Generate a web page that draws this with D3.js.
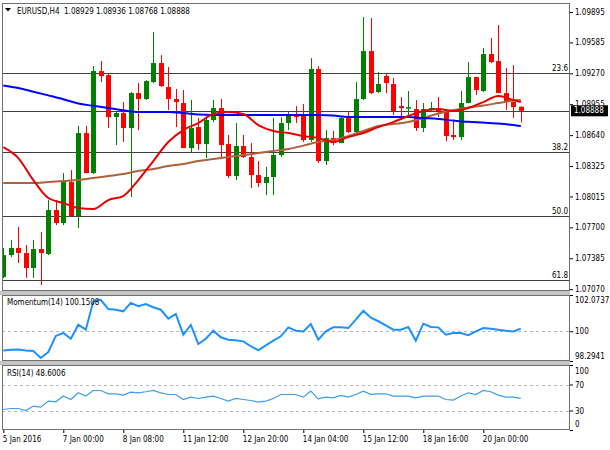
<!DOCTYPE html>
<html>
<head>
<meta charset="utf-8">
<title>EURUSD,H4</title>
<style>
  body { margin: 0; background: #fff; }
  svg text { font-family: "DejaVu Sans Condensed", "DejaVu Sans", sans-serif; font-stretch: condensed; font-size: 8px; fill: #000; }
</style>
</head>
<body>
<svg id="chart" width="610" height="450"></svg>
<script src="https://d3js.org/d3.v7.min.js"></script>
<script>
// ---- data ----
const header = "EURUSD,H4  1.08929 1.08936 1.08768 1.08888"
const tickBars = [0, 8, 16, 24, 32, 40, 48, 56, 64]
const tickLabels = ["5 Jan 2016", "7 Jan 00:00", "8 Jan 08:00", "11 Jan 12:00", "12 Jan 20:00",
  "14 Jan 04:00", "15 Jan 12:00", "18 Jan 16:00", "20 Jan 00:00"]

const open = [1.07193,1.07418,1.07489,1.07438,1.07285,1.07479,1.07428,1.07876,1.07744,1.08162,
  1.07815,1.08661,1.08253,1.09293,1.09252,1.08824,1.08865,1.08712,1.09069,1.09008,
  1.09181,1.09375,1.09130,1.09008,1.08967,1.08508,1.08722,1.08549,1.08794,1.08916,
  1.08549,1.08223,1.08529,1.08417,1.08233,1.08152,1.08213,1.08437,1.08763,1.08845,
  1.08845,1.08590,1.09314,1.08376,1.08610,1.08559,1.08814,1.08671,1.09008,1.09497,
  1.09079,1.09242,1.09161,1.08936,1.08916,1.08906,1.08712,1.08896,1.08916,1.08886,
  1.08641,1.08620,1.08967,1.09232,1.09089,1.09467,1.09395,1.09069,1.08977,1.08929]
const high = [1.07489,1.07570,1.07703,1.07520,1.07570,1.07652,1.07978,1.07978,1.08253,1.08284,
  1.08733,1.08733,1.09344,1.09395,1.09263,1.08875,1.08977,1.09079,1.09171,1.09201,
  1.09691,1.09456,1.09334,1.09110,1.09100,1.08998,1.08814,1.08814,1.08998,1.09008,
  1.08641,1.08763,1.08641,1.08559,1.08376,1.08315,1.08814,1.08824,1.08875,1.08936,
  1.08957,1.09426,1.09344,1.08692,1.08682,1.08824,1.08875,1.09181,1.09844,1.09834,
  1.09283,1.09273,1.09222,1.09028,1.09089,1.08998,1.08967,1.08977,1.09028,1.08896,
  1.08794,1.09089,1.09385,1.09232,1.09528,1.09630,1.09762,1.09324,1.09354,1.08936]
const low = [1.07183,1.07397,1.07336,1.07183,1.07183,1.07112,1.07418,1.07723,1.07723,1.07815,
  1.07693,1.08253,1.08243,1.09181,1.08712,1.08539,1.08570,1.08009,1.08692,1.08998,
  1.09171,1.09130,1.08896,1.08722,1.08508,1.08468,1.08488,1.08406,1.08773,1.08417,
  1.08203,1.08182,1.08406,1.08101,1.08111,1.08029,1.08029,1.08417,1.08692,1.08763,
  1.08570,1.08570,1.08355,1.08335,1.08539,1.08559,1.08661,1.08661,1.08998,1.09059,
  1.09069,1.09069,1.08845,1.08794,1.08824,1.08682,1.08671,1.08875,1.08824,1.08580,
  1.08590,1.08590,1.08967,1.09049,1.09079,1.09375,1.09069,1.08896,1.08814,1.08768]
const close = [1.07418,1.07489,1.07438,1.07285,1.07479,1.07438,1.07876,1.07744,1.08162,1.07815,
  1.08661,1.08253,1.09293,1.09242,1.08824,1.08865,1.08712,1.09069,1.09008,1.09191,
  1.09375,1.09140,1.09008,1.08977,1.08508,1.08712,1.08549,1.08794,1.08916,1.08539,
  1.08223,1.08529,1.08417,1.08233,1.08152,1.08213,1.08437,1.08763,1.08835,1.08824,
  1.08590,1.09314,1.08376,1.08610,1.08559,1.08814,1.08671,1.09008,1.09497,1.09069,
  1.09161,1.09171,1.08886,1.08916,1.08926,1.08712,1.08906,1.08916,1.08886,1.08631,
  1.08620,1.08967,1.09232,1.09100,1.09467,1.09385,1.09069,1.08977,1.08926,1.08888]

// moving averages, read every second bar
const maBars = [0,2,4,6,8,10,12,14,16,18,20,22,24,26,28,30,32,34,36,38,40,42,44,46,48,50,52,54,56,58,60,62,64,66,68,69]
const maRed = [1.08518,1.08406,1.08182,1.07999,1.07948,1.07897,1.07886,1.07978,1.08019,1.08182,
  1.08376,1.08570,1.08692,1.08763,1.08855,1.08875,1.08855,1.08743,1.08682,1.08661,
  1.08631,1.08610,1.08570,1.08620,1.08661,1.08722,1.08773,1.08835,1.08886,1.08906,
  1.08886,1.08916,1.08977,1.09038,1.08998,1.08977]
const maBrown = [1.08152,1.08152,1.08152,1.08162,1.08172,1.08182,1.08203,1.08223,1.08243,1.08274,
  1.08294,1.08325,1.08345,1.08376,1.08396,1.08417,1.08437,1.08457,1.08478,1.08498,
  1.08533,1.08570,1.08590,1.08631,1.08682,1.08733,1.08753,1.08773,1.08814,1.08860,
  1.08896,1.08921,1.08942,1.08967,1.08992,1.08998]
const maBlue = [1.09146,1.09120,1.09083,1.09045,1.09006,1.08962,1.08939,1.08916,1.08893,1.08875,
  1.08875,1.08875,1.08865,1.08850,1.08845,1.08845,1.08845,1.08845,1.08845,1.08845,
  1.08845,1.08845,1.08840,1.08824,1.08824,1.08824,1.08824,1.08824,1.08814,1.08804,
  1.08789,1.08776,1.08768,1.08758,1.08743,1.08733]

const fibNames = ["23.6", "38.2", "50.0", "61.8"]
const fibPrices = [1.09276, 1.08468, 1.07815, 1.07162]
const lastPrice = 1.08888
const priceTicks = [1.09895, 1.09585, 1.09270, 1.08955, 1.08640, 1.08325, 1.08015, 1.07700, 1.07385, 1.07070]

const momentum = [98.90,98.94,98.95,98.90,98.87,98.47,98.81,99.73,99.90,99.57,
  100.37,100.09,101.71,101.80,101.27,101.23,101.14,101.62,101.43,101.56,
  101.37,101.23,100.72,100.99,99.80,100.36,99.27,99.57,100.03,99.65,
  99.51,99.48,99.42,99.14,98.91,99.19,99.46,99.71,100.22,100.03,
  99.99,100.41,99.51,99.99,100.22,100.22,100.18,100.66,101.17,100.77,
  100.57,100.34,100.09,100.09,100.24,99.46,100.43,100.24,100.22,99.80,
  99.90,99.90,99.77,99.99,100.18,100.14,100.09,100.03,99.99,100.1508]
const momTicks = [102.0737, 100, 98.2941]

const rsi = [31.5,33.1,33.1,30.0,36.8,35.2,44.5,43.4,52.2,46.9,
  57.2,52.2,60.8,60.8,55.7,55.7,53.7,58.3,57.2,58.8,
  60.8,57.2,54.6,54.6,46.9,50.6,48.5,50.6,52.2,48.5,
  44.5,48.5,46.9,45.4,42.9,44.5,48.5,54.6,54.6,54.6,
  50.6,59.8,48.0,50.6,49.5,53.1,50.6,54.6,59.8,54.9,
  55.7,55.7,52.2,52.2,52.2,49.5,52.2,52.2,52.2,46.9,
  46.0,52.2,57.2,54.6,60.8,58.8,53.7,50.6,50.6,48.6006]
const rsiTicks = [100, 70, 30, 0]

// ---- layout ----
const left = 2, right = 570
const main = { top: 3, bottom: 291 }
const mom = { top: 295, bottom: 361 }
const rsiP = { top: 365, bottom: 430 }

const svg = d3.select('#chart')

const x = d3.scaleLinear().domain([0, 69]).range([3.3, 520.8])
const y = d3.scaleLinear().domain([1.07051, 1.09987]).range([main.bottom, main.top])
const yMom = d3.scaleLinear().domain([98.2941, 102.0737]).range([mom.bottom, mom.top])
const yRsi = d3.scaleLinear().domain([0, 100]).range([rsiP.bottom, rsiP.top])

const px = i => Math.round(x(i)) + 0.5

// splitters between the windows (only under the chart area)
svg.append('rect').attr('x', 0).attr('y', main.bottom).attr('width', right).attr('height', mom.top - main.bottom).attr('fill', '#c4c4c4')
svg.append('rect').attr('x', 0).attr('y', mom.bottom).attr('width', right).attr('height', rsiP.top - mom.bottom).attr('fill', '#c4c4c4')

// clip paths
const defs = svg.append('defs')
;[['clipMain', main], ['clipMom', mom], ['clipRsi', rsiP]].forEach(([id, p]) => {
  defs.append('clipPath').attr('id', id).append('rect')
    .attr('x', left).attr('y', p.top).attr('width', right - left).attr('height', p.bottom - p.top)
})

// ---- main window ----
const plot = svg.append('g').attr('clip-path', 'url(#clipMain)')

plot.selectAll('line.fib').data(fibPrices).join('line')
  .attr('class', 'fib')
  .attr('x1', left).attr('x2', right)
  .attr('y1', d => Math.round(y(d)) + 0.5).attr('y2', d => Math.round(y(d)) + 0.5)
  .attr('stroke', '#404040')

plot.append('line')
  .attr('x1', left).attr('x2', right)
  .attr('y1', Math.round(y(lastPrice)) + 0.5).attr('y2', Math.round(y(lastPrice)) + 0.5)
  .attr('stroke', '#404040')

const bars = d3.range(open.length)
const colour = i => close[i] >= open[i] ? '#008000' : '#ff0000'

plot.selectAll('line.wick').data(bars).join('line')
  .attr('class', 'wick')
  .attr('x1', px).attr('x2', px)
  .attr('y1', i => y(high[i])).attr('y2', i => y(low[i]))
  .attr('stroke', colour)

plot.selectAll('rect.body').data(bars).join('rect')
  .attr('class', 'body')
  .attr('x', i => Math.round(x(i)) - 2)
  .attr('width', 5)
  .attr('y', i => y(Math.max(open[i], close[i])))
  .attr('height', i => Math.max(1.5, Math.abs(y(open[i]) - y(close[i]))))
  .attr('fill', colour)

const maLine = d3.line().x((d, i) => x(maBars[i])).y(d => y(d)).curve(d3.curveMonotoneX)
plot.append('path').attr('d', maLine(maBrown)).attr('fill', 'none').attr('stroke', '#b0603a').attr('stroke-width', 2)
plot.append('path').attr('d', maLine(maBlue)).attr('fill', 'none').attr('stroke', '#0000ff').attr('stroke-width', 2)
plot.append('path').attr('d', maLine(maRed)).attr('fill', 'none').attr('stroke', '#e60000').attr('stroke-width', 2)

// header
svg.append('path').attr('d', 'M5,8 L11,8 L8,11.5 Z').attr('fill', '#000')
svg.append('text').attr('x', 17).attr('y', 14).attr('xml:space', 'preserve').text(header)

// fibo labels
svg.selectAll('text.fibname').data(fibPrices).join('text')
  .attr('class', 'fibname')
  .attr('x', right - 2).attr('y', d => y(d) - 2)
  .attr('text-anchor', 'end')
  .text((d, i) => fibNames[i])

// price axis
const yAxis = d3.axisRight(y).tickValues(priceTicks).tickSize(3).tickPadding(2).tickFormat(d3.format('.5f'))
svg.append('g').attr('transform', `translate(${right},0)`).call(yAxis)
  .call(g => g.select('.domain').remove())

// current price tag
svg.append('rect').attr('x', right + 1).attr('y', y(lastPrice) - 5.5).attr('width', 37).attr('height', 11).attr('fill', '#000')
svg.append('text').attr('x', right + 4).attr('y', y(lastPrice)).attr('dy', '0.32em')
  .style('fill', '#fff').text(d3.format('.5f')(lastPrice))

// ---- momentum window ----
const momG = svg.append('g').attr('clip-path', 'url(#clipMom)')
momG.append('line').attr('x1', left).attr('x2', right)
  .attr('y1', Math.round(yMom(100)) + 0.5).attr('y2', Math.round(yMom(100)) + 0.5)
  .attr('stroke', '#b8b8b8').attr('stroke-dasharray', '3,3')
momG.append('path')
  .attr('d', d3.line().x((d, i) => x(i)).y(d => yMom(d))(momentum))
  .attr('fill', 'none').attr('stroke', '#1e90ff').attr('stroke-width', 2)
svg.append('text').attr('x', 7).attr('y', 305).text('Momentum(14) ' + d3.format('.4f')(momentum[momentum.length - 1]))

const momAxis = d3.axisRight(yMom).tickValues(momTicks).tickSize(3).tickPadding(2).tickFormat(d => d === 100 ? '100' : d3.format('.4f')(d))
svg.append('g').attr('transform', `translate(${right},0)`).call(momAxis)
  .call(g => g.select('.domain').remove())
  .call(g => g.selectAll('text').attr('dy', d => d === momTicks[0] ? '0.9em' : d === momTicks[2] ? '-0.3em' : '0.32em'))

// ---- RSI window ----
const rsiG = svg.append('g').attr('clip-path', 'url(#clipRsi)')
rsiG.selectAll('line.lvl').data([70, 30]).join('line')
  .attr('x1', left).attr('x2', right)
  .attr('y1', d => Math.round(yRsi(d)) + 0.5).attr('y2', d => Math.round(yRsi(d)) + 0.5)
  .attr('stroke', '#b8b8b8').attr('stroke-dasharray', '3,3')
rsiG.append('path')
  .attr('d', d3.line().x((d, i) => x(i)).y(d => yRsi(d))(rsi))
  .attr('fill', 'none').attr('stroke', '#3d9cf0').attr('stroke-width', 1.2)
svg.append('text').attr('x', 7).attr('y', 376).text('RSI(14) ' + d3.format('.4f')(rsi[rsi.length - 1]))

const rsiAxis = d3.axisRight(yRsi).tickValues(rsiTicks).tickSize(3).tickPadding(2)
svg.append('g').attr('transform', `translate(${right},0)`).call(rsiAxis)
  .call(g => g.select('.domain').remove())
  .call(g => g.selectAll('text').attr('dy', d => d === 100 ? '1.0em' : d === 0 ? '-0.4em' : '0.32em'))

// window frames
;[main, mom, rsiP].forEach(p => {
  svg.append('rect').attr('x', left + 0.5).attr('y', p.top + 0.5)
    .attr('width', right - left - 1).attr('height', p.bottom - p.top - 1)
    .attr('fill', 'none').attr('stroke', '#6e6e6e')
})

// ---- time axis ----
const xAxis = d3.axisBottom(x).tickValues(tickBars).tickSize(3).tickPadding(3)
  .tickFormat((d, i) => tickLabels[i])
svg.append('g').attr('transform', `translate(0,${rsiP.bottom})`).call(xAxis)
  .call(g => g.select('.domain').remove())
  .call(g => g.selectAll('text').attr('text-anchor', 'start').attr('x', -1))
</script>
</body>
</html>
